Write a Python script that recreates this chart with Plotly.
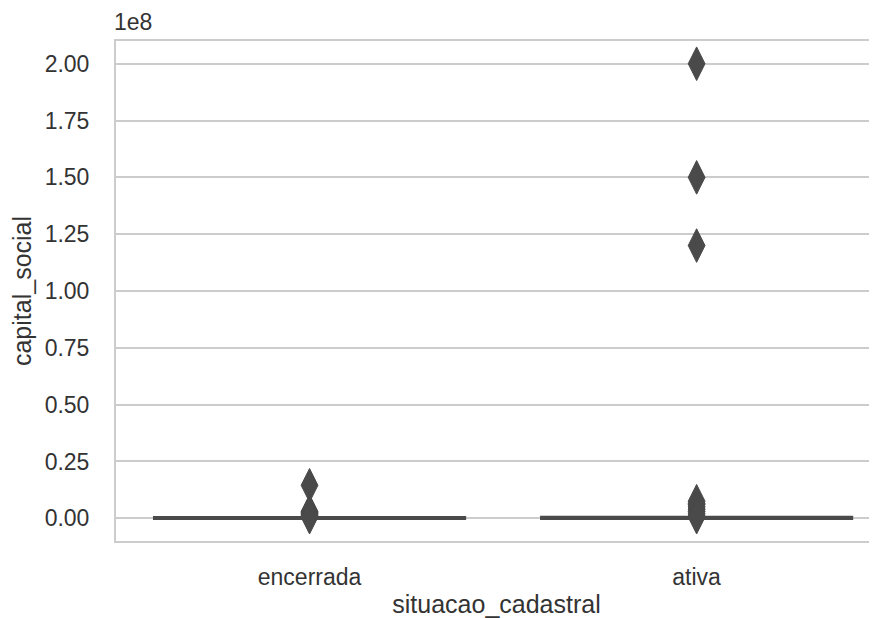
import plotly.graph_objects as go

# ---- data ----
categories = ["encerrada", "ativa"]
box_q1 = [10000, 20000]
box_median = [50000, 80000]
box_q3 = [200000, 300000]
box_lowerfence = [0, 0]
box_upperfence = [450000, 700000]

outliers_encerrada = [14500000, 3000000, 2500000, 2000000, 1500000, 1000000, 500000]
outliers_ativa = [200000000, 150000000, 120000000, 7500000, 6500000, 6000000, 5000000,
                  4000000, 3000000, 2000000, 1000000, 500000]

y_tickvals = [0, 25000000, 50000000, 75000000, 100000000, 125000000, 150000000, 175000000, 200000000]
y_ticktext = ["0.00", "0.25", "0.50", "0.75", "1.00", "1.25", "1.50", "1.75", "2.00"]

FONT = "Liberation Sans, Arial, sans-serif"
TXT = "#333333"
GRID = "#cccccc"
DARK = "#4a4a4a"

fig = go.Figure()
fig.add_trace(go.Box(
    x=categories, q1=box_q1, median=box_median, q3=box_q3,
    lowerfence=box_lowerfence, upperfence=box_upperfence,
    boxpoints=False, width=0.8, whiskerwidth=0,
    line=dict(color=DARK, width=3.5), fillcolor=DARK,
    showlegend=False, hoverinfo="skip",
))
out_x = [categories[0]] * len(outliers_encerrada) + [categories[1]] * len(outliers_ativa)
out_y = outliers_encerrada + outliers_ativa
fig.add_trace(go.Scatter(
    x=out_x, y=out_y, mode="markers",
    marker=dict(symbol="diamond-tall", size=24, color=DARK, line=dict(color=DARK, width=1)),
    showlegend=False,
))

fig.update_layout(
    width=869, height=610,
    margin=dict(l=108, r=0, t=33, b=77),
    paper_bgcolor="white", plot_bgcolor="white",
    font=dict(family=FONT, color=TXT, size=23),
    xaxis=dict(
        type="category", categoryorder="array", categoryarray=categories,
        range=[-0.5, 1.466], automargin=False,
        showgrid=False, zeroline=False,
        showline=True, linecolor=GRID, linewidth=2, mirror=True,
        ticks="", ticklabelstandoff=14,
        tickfont=dict(size=23, color=TXT),
        title=dict(text="situacao_cadastral", font=dict(size=25, color=TXT), standoff=7),
    ),
    yaxis=dict(
        range=[-10000000, 210000000], automargin=False,
        tickvals=y_tickvals, ticktext=y_ticktext,
        showgrid=True, gridcolor=GRID, gridwidth=1.5,
        zeroline=False,
        showline=True, linecolor=GRID, linewidth=2, mirror=False,
        ticks="", ticklabelstandoff=20,
        tickfont=dict(size=23, color=TXT),
        title=dict(text="capital_social", font=dict(size=25, color=TXT), standoff=10),
    ),
    annotations=[dict(
        text="1e8", xref="paper", yref="paper", x=0, y=1,
        xanchor="left", yanchor="bottom", yshift=4, xshift=-4, showarrow=False,
        font=dict(size=23, color=TXT),
    )],
)

fig.write_html("out.html")
